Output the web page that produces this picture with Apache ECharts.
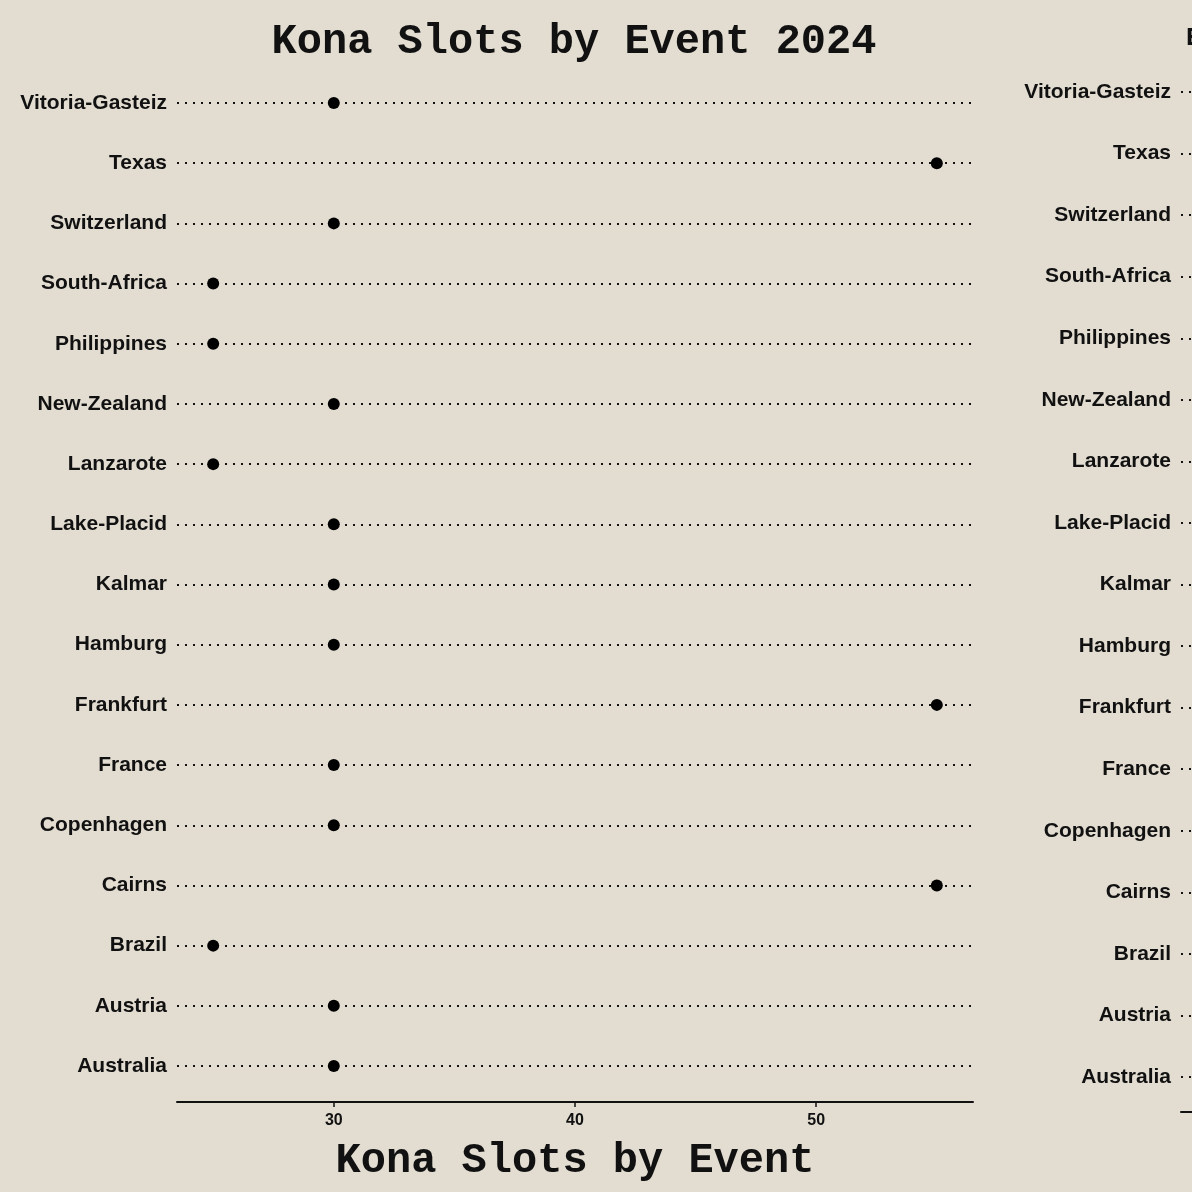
<!DOCTYPE html>
<html>
<head>
<meta charset="utf-8">
<script src="https://cdn.jsdelivr.net/npm/echarts@6/dist/echarts.min.js"></script>
<style>
  html, body { margin: 0; padding: 0; background: #e2dcd1; }
  #chart { width: 1192px; height: 1192px; }
</style>
</head>
<body>
<div id="chart"></div>
<script>
// events, bottom to top
const events = ['Australia', 'Austria', 'Brazil', 'Cairns', 'Copenhagen', 'France', 'Frankfurt',
  'Hamburg', 'Kalmar', 'Lake-Placid', 'Lanzarote', 'New-Zealand', 'Philippines',
  'South-Africa', 'Switzerland', 'Texas', 'Vitoria-Gasteiz']
const slots = [30, 30, 25, 55, 30, 30, 55, 30, 30, 30, 25, 30, 25, 25, 30, 55, 30]
const slotTicks = [30, 40, 50]

const monoFont = '"Courier New", "Liberation Mono", monospace'
const sansFont = '"Liberation Sans", Arial, sans-serif'

const dotted = { color: '#111', width: 2, type: [2, 6] }

const myChart = echarts.init(document.getElementById('chart'))
myChart.setOption({
  backgroundColor: '#e2dcd1',
  animation: false,
  title: [
    {
      text: 'Kona Slots by Event 2024',
      left: 569, top: 16, textAlign: 'center',
      textStyle: { fontFamily: monoFont, fontSize: 42, fontWeight: 'bold', color: '#111' }
    },
    {
      text: 'E',
      left: 1181, top: 20,
      textStyle: { fontFamily: monoFont, fontSize: 26, fontWeight: 'bold', color: '#111' }
    }
  ],
  grid: [
    { left: 177, top: 103, width: 796, height: 963 },
    { left: 1181, top: 92, width: 800, height: 985 }
  ],
  xAxis: [
    {
      gridIndex: 0,
      type: 'value',
      min: 23.5, max: 56.5,
      offset: 36,
      name: 'Kona Slots by Event',
      nameLocation: 'middle',
      nameGap: 38,
      nameTextStyle: { fontFamily: monoFont, fontSize: 42, fontWeight: 'bold', color: '#111' },
      axisLine: { show: true, lineStyle: { color: '#111', width: 2 } },
      axisTick: { show: true, length: 5, customValues: slotTicks, lineStyle: { color: '#111', width: 1.5 } },
      axisLabel: {
        customValues: slotTicks, margin: 11,
        fontFamily: '"Liberation Sans Narrow", ' + sansFont, fontSize: 16, fontWeight: 'bold', color: '#111'
      },
      splitLine: { show: false }
    },
    {
      gridIndex: 1,
      type: 'value',
      min: 0, max: 100,
      offset: 35,
      axisLine: { show: true, lineStyle: { color: '#111', width: 2 } },
      axisTick: { show: false },
      axisLabel: { show: false },
      splitLine: { show: false }
    }
  ],
  yAxis: [0, 1].map(i => ({
    gridIndex: i,
    type: 'category',
    data: events,
    boundaryGap: false,
    axisLine: { show: false },
    axisTick: { show: false },
    axisLabel: {
      margin: 10, fontFamily: sansFont, fontSize: 21, fontWeight: 'bold', color: '#111',
      padding: [6, 0, 0, 0]
    },
    splitLine: { show: true, lineStyle: dotted }
  })),
  series: [
    {
      type: 'scatter',
      xAxisIndex: 0, yAxisIndex: 0,
      data: slots,
      symbolSize: 12,
      itemStyle: { color: '#000', opacity: 1 }
    }
  ]
})
</script>
</body>
</html>
